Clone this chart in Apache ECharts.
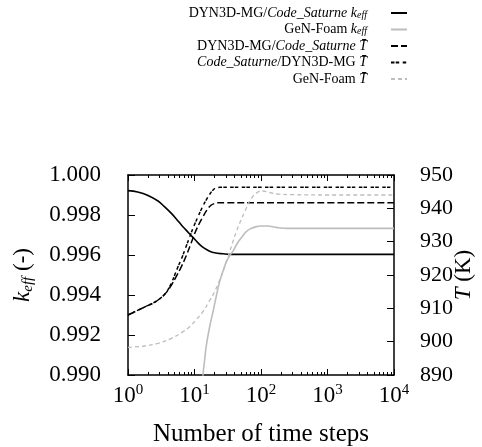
<!DOCTYPE html>
<html>
<head>
<meta charset="utf-8">
<script src="https://cdn.jsdelivr.net/npm/echarts@6.0.0/dist/echarts.min.js"></script>
<style>
html,body{margin:0;padding:0;background:#fff;}
#chart{width:482px;height:447px;}
</style>
</head>
<body>
<div id="chart"></div>
<script>
// ---- data ----
const seriesNames = [
  'DYN3D-MG/Code_Saturne keff',
  'GeN-Foam keff',
  'DYN3D-MG/Code_Saturne T\u0304',
  'Code_Saturne/DYN3D-MG T\u0304',
  'GeN-Foam T\u0304'
];

// DYN3D-MG/Code_Saturne keff (left axis)
const x1 = [1, 1.4, 2, 2.83, 3.5, 4.49, 5.4, 6.35, 7.3, 8.47, 10, 12, 14, 16.9, 20.1, 26.8, 35, 50, 100, 1000, 10000];
const k1 = [0.99922, 0.99915, 0.99898, 0.99870, 0.99843, 0.99808, 0.99778, 0.99750, 0.99728, 0.99705, 0.99680, 0.99652, 0.99634, 0.99619, 0.99611, 0.99606, 0.99603, 0.99603, 0.99603, 0.99603, 0.99603];

// GeN-Foam keff (left axis)
const x2 = [12.8, 13.4, 14.2, 15.1, 17, 19, 21.3, 23.9, 27, 30.2, 34, 37.9, 42.6, 47.6, 53.5, 60, 70, 85, 100, 127, 170, 250, 500, 1000, 10000];
const k2 = [0.9892, 0.9900, 0.99075, 0.9915, 0.99245, 0.99317, 0.99395, 0.99467, 0.99522, 0.99567, 0.99598, 0.99619, 0.99650, 0.99675, 0.99697, 0.99717, 0.99732, 0.99742, 0.99745, 0.99745, 0.99738, 0.99733, 0.99733, 0.99733, 0.99733];

// DYN3D-MG/Code_Saturne mean T (right axis)
const x3 = [1, 1.78, 2.4, 2.83, 3.4, 4.0, 4.5, 5.3, 6.35, 7.55, 8.8, 10.1, 11.7, 13.4, 15.5, 17.9, 20.5, 24, 30, 100, 10000];
const t3 = [908, 910.4, 911.6, 912.5, 913.8, 915.4, 917.0, 919.5, 922.5, 925.9, 929.3, 932.5, 935.3, 937.5, 939.6, 941.0, 941.5, 941.7, 941.7, 941.7, 941.7];

// Code_Saturne/DYN3D-MG mean T (right axis)
const x4 = [1, 1.78, 2.4, 2.83, 3.4, 4.0, 4.5, 5.0, 5.6, 6.35, 7.4, 8.5, 9.8, 11.3, 13, 15.1, 17, 19, 21, 24, 100, 10000];
const t4 = [908, 910.4, 911.6, 912.5, 913.8, 915.6, 917.6, 919.8, 922.3, 924.8, 928.3, 931.5, 934.7, 937.5, 940.2, 942.6, 944.3, 945.5, 946.1, 946.3, 946.3, 946.3];

// GeN-Foam mean T (right axis)
const x5 = [1, 1.78, 2.83, 4.5, 6.5, 8.47, 10.5, 13.4, 16.5, 20.1, 26.8, 33.8, 42.6, 57, 71.7, 90, 105, 130, 180, 300, 1000, 10000];
const t5 = [898.3, 898.7, 899.5, 901, 902.8, 904.5, 906.5, 909, 912, 915, 921, 927, 933, 939, 943, 944.9, 945.2, 944.8, 944.3, 944.1, 944.0, 944.0];

// axes
const xMin = 1, xMax = 10000;
const kMin = 0.990, kMax = 1.000, kStep = 0.002;
const tMin = 890, tMax = 950, tStep = 10;
const minorX = [];
[1, 10, 100, 1000].forEach(d => { for (let m = 2; m <= 9; m++) minorX.push(d * m); });

const legendRich = {
  'DYN3D-MG/Code_Saturne keff': 'DYN3D-MG/{i|Code_Saturne} {i|k}{s|eff}',
  'GeN-Foam keff': 'GeN-Foam {i|k}{s|eff}',
  'DYN3D-MG/Code_Saturne T\u0304': 'DYN3D-MG/{i|Code_Saturne} {i|T\u0304}',
  'Code_Saturne/DYN3D-MG T\u0304': '{i|Code_Saturne}/DYN3D-MG {i|T\u0304}',
  'GeN-Foam T\u0304': 'GeN-Foam {i|T\u0304}'
};

const FONT = 'Liberation Serif';
const zip = (xs, ys) => xs.map((x, i) => [x, ys[i]]);

const chart = echarts.init(document.getElementById('chart'), null, {renderer: 'canvas'});

function minorAxis(pos) {
  return {
    type: 'log', logBase: 10, min: xMin, max: xMax, position: pos,
    axisLine: {show: false},
    axisTick: {show: true, inside: true, length: 3, lineStyle: {color: '#000', width: 1}, customValues: minorX},
    axisLabel: {show: false}, splitLine: {show: false}
  };
}

const option = {
  animation: false,
  backgroundColor: '#fff',
  textStyle: {fontFamily: FONT},
  legend: {
    orient: 'vertical', align: 'right', right: 74, top: 6, padding: 0,
    itemWidth: 16, itemHeight: 14, itemGap: 2.5,
    itemStyle: {opacity: 0, borderWidth: 0},
    data: seriesNames,
    formatter: n => legendRich[n],
    textStyle: {
      fontFamily: FONT, fontSize: 14, color: '#000', lineHeight: 14, padding: [0, 19, 0, 0],
      rich: {
        i: {fontFamily: FONT, fontStyle: 'italic', fontSize: 14, color: '#000'},
        s: {fontFamily: FONT, fontStyle: 'italic', fontSize: 10, color: '#000', verticalAlign: 'bottom', lineHeight: 10}
      }
    }
  },
  grid: {left: 128, right: 88, top: 175, bottom: 72, containLabel: false, outerBoundsMode: 'none'},
  xAxis: [
    {
      type: 'log', logBase: 10, min: xMin, max: xMax, position: 'bottom',
      name: 'Number of time steps', nameLocation: 'middle', nameGap: 47, nameMoveOverlap: false,
      nameTextStyle: {fontFamily: FONT, fontSize: 25, color: '#000'},
      axisLine: {show: true, lineStyle: {color: '#000', width: 1.5}},
      axisTick: {show: true, inside: true, length: 6, lineStyle: {color: '#000', width: 1}},
      axisLabel: {
        margin: 8, color: '#000',
        formatter: v => '{b|10}{s|' + Math.round(Math.log10(v)) + '}',
        rich: {
          b: {fontFamily: FONT, fontSize: 23, color: '#000', lineHeight: 26},
          s: {fontFamily: FONT, fontSize: 15, color: '#000', verticalAlign: 'top', lineHeight: 15}
        }
      },
      splitLine: {show: false}
    },
    {
      type: 'log', logBase: 10, min: xMin, max: xMax, position: 'top',
      axisLine: {show: true, lineStyle: {color: '#000', width: 1.5}},
      axisTick: {show: true, inside: true, length: 6, lineStyle: {color: '#000', width: 1}},
      axisLabel: {show: false}, splitLine: {show: false}
    },
    minorAxis('bottom'),
    minorAxis('top')
  ],
  yAxis: [
    {
      type: 'value', min: kMin, max: kMax, interval: kStep, position: 'left',
      name: '{i|k}{s|eff} (-)', nameLocation: 'middle', nameGap: 92, nameRotate: 90, nameMoveOverlap: false,
      nameTextStyle: {
        fontFamily: FONT, fontSize: 23, color: '#000', lineHeight: 26,
        rich: {
          i: {fontFamily: FONT, fontStyle: 'italic', fontSize: 23, color: '#000'},
          s: {fontFamily: FONT, fontStyle: 'italic', fontSize: 15, color: '#000', verticalAlign: 'bottom', lineHeight: 15}
        }
      },
      axisLine: {show: true, lineStyle: {color: '#000', width: 1.5}},
      axisTick: {show: true, inside: true, length: 7, lineStyle: {color: '#000', width: 1}},
      axisLabel: {margin: 27, color: '#000', fontFamily: FONT, fontSize: 23, formatter: v => v.toFixed(3)},
      splitLine: {show: false}
    },
    {
      type: 'value', min: tMin, max: tMax, interval: tStep, position: 'right',
      name: '{i|T} (K)', nameLocation: 'middle', nameGap: 58, nameRotate: 90, nameMoveOverlap: false,
      nameTextStyle: {
        fontFamily: FONT, fontSize: 23, color: '#000',
        rich: {i: {fontFamily: FONT, fontStyle: 'italic', fontSize: 23, color: '#000'}}
      },
      axisLine: {show: true, lineStyle: {color: '#000', width: 1.5}},
      axisTick: {show: true, inside: true, length: 7, lineStyle: {color: '#000', width: 1}},
      axisLabel: {margin: 26, color: '#000', fontFamily: FONT, fontSize: 22},
      splitLine: {show: false}
    }
  ],
  series: [
    {
      name: seriesNames[0], type: 'line', yAxisIndex: 0, data: zip(x1, k1),
      smooth: 0.4, showSymbol: false, symbol: 'none', clip: true,
      lineStyle: {color: '#000', width: 1.6}, itemStyle: {color: '#000'}
    },
    {
      name: seriesNames[1], type: 'line', yAxisIndex: 0, data: zip(x2, k2),
      smooth: 0.4, showSymbol: false, symbol: 'none', clip: true,
      lineStyle: {color: '#bdbdbd', width: 1.6}, itemStyle: {color: '#bdbdbd'}
    },
    {
      name: seriesNames[2], type: 'line', yAxisIndex: 1, data: zip(x3, t3),
      smooth: 0.4, showSymbol: false, symbol: 'none', clip: true,
      lineStyle: {color: '#000', width: 1.5, type: [7, 3]}, itemStyle: {color: '#000'}
    },
    {
      name: seriesNames[3], type: 'line', yAxisIndex: 1, data: zip(x4, t4),
      smooth: 0.4, showSymbol: false, symbol: 'none', clip: true,
      lineStyle: {color: '#000', width: 1.5, type: [3.5, 1.2, 3.5, 3.5]}, itemStyle: {color: '#000'}
    },
    {
      name: seriesNames[4], type: 'line', yAxisIndex: 1, data: zip(x5, t5),
      smooth: 0.4, showSymbol: false, symbol: 'none', clip: true,
      lineStyle: {color: '#bdbdbd', width: 1.3, type: [4, 3]}, itemStyle: {color: '#bdbdbd'}
    }
  ]
};
chart.setOption(option);
</script>
</body>
</html>
